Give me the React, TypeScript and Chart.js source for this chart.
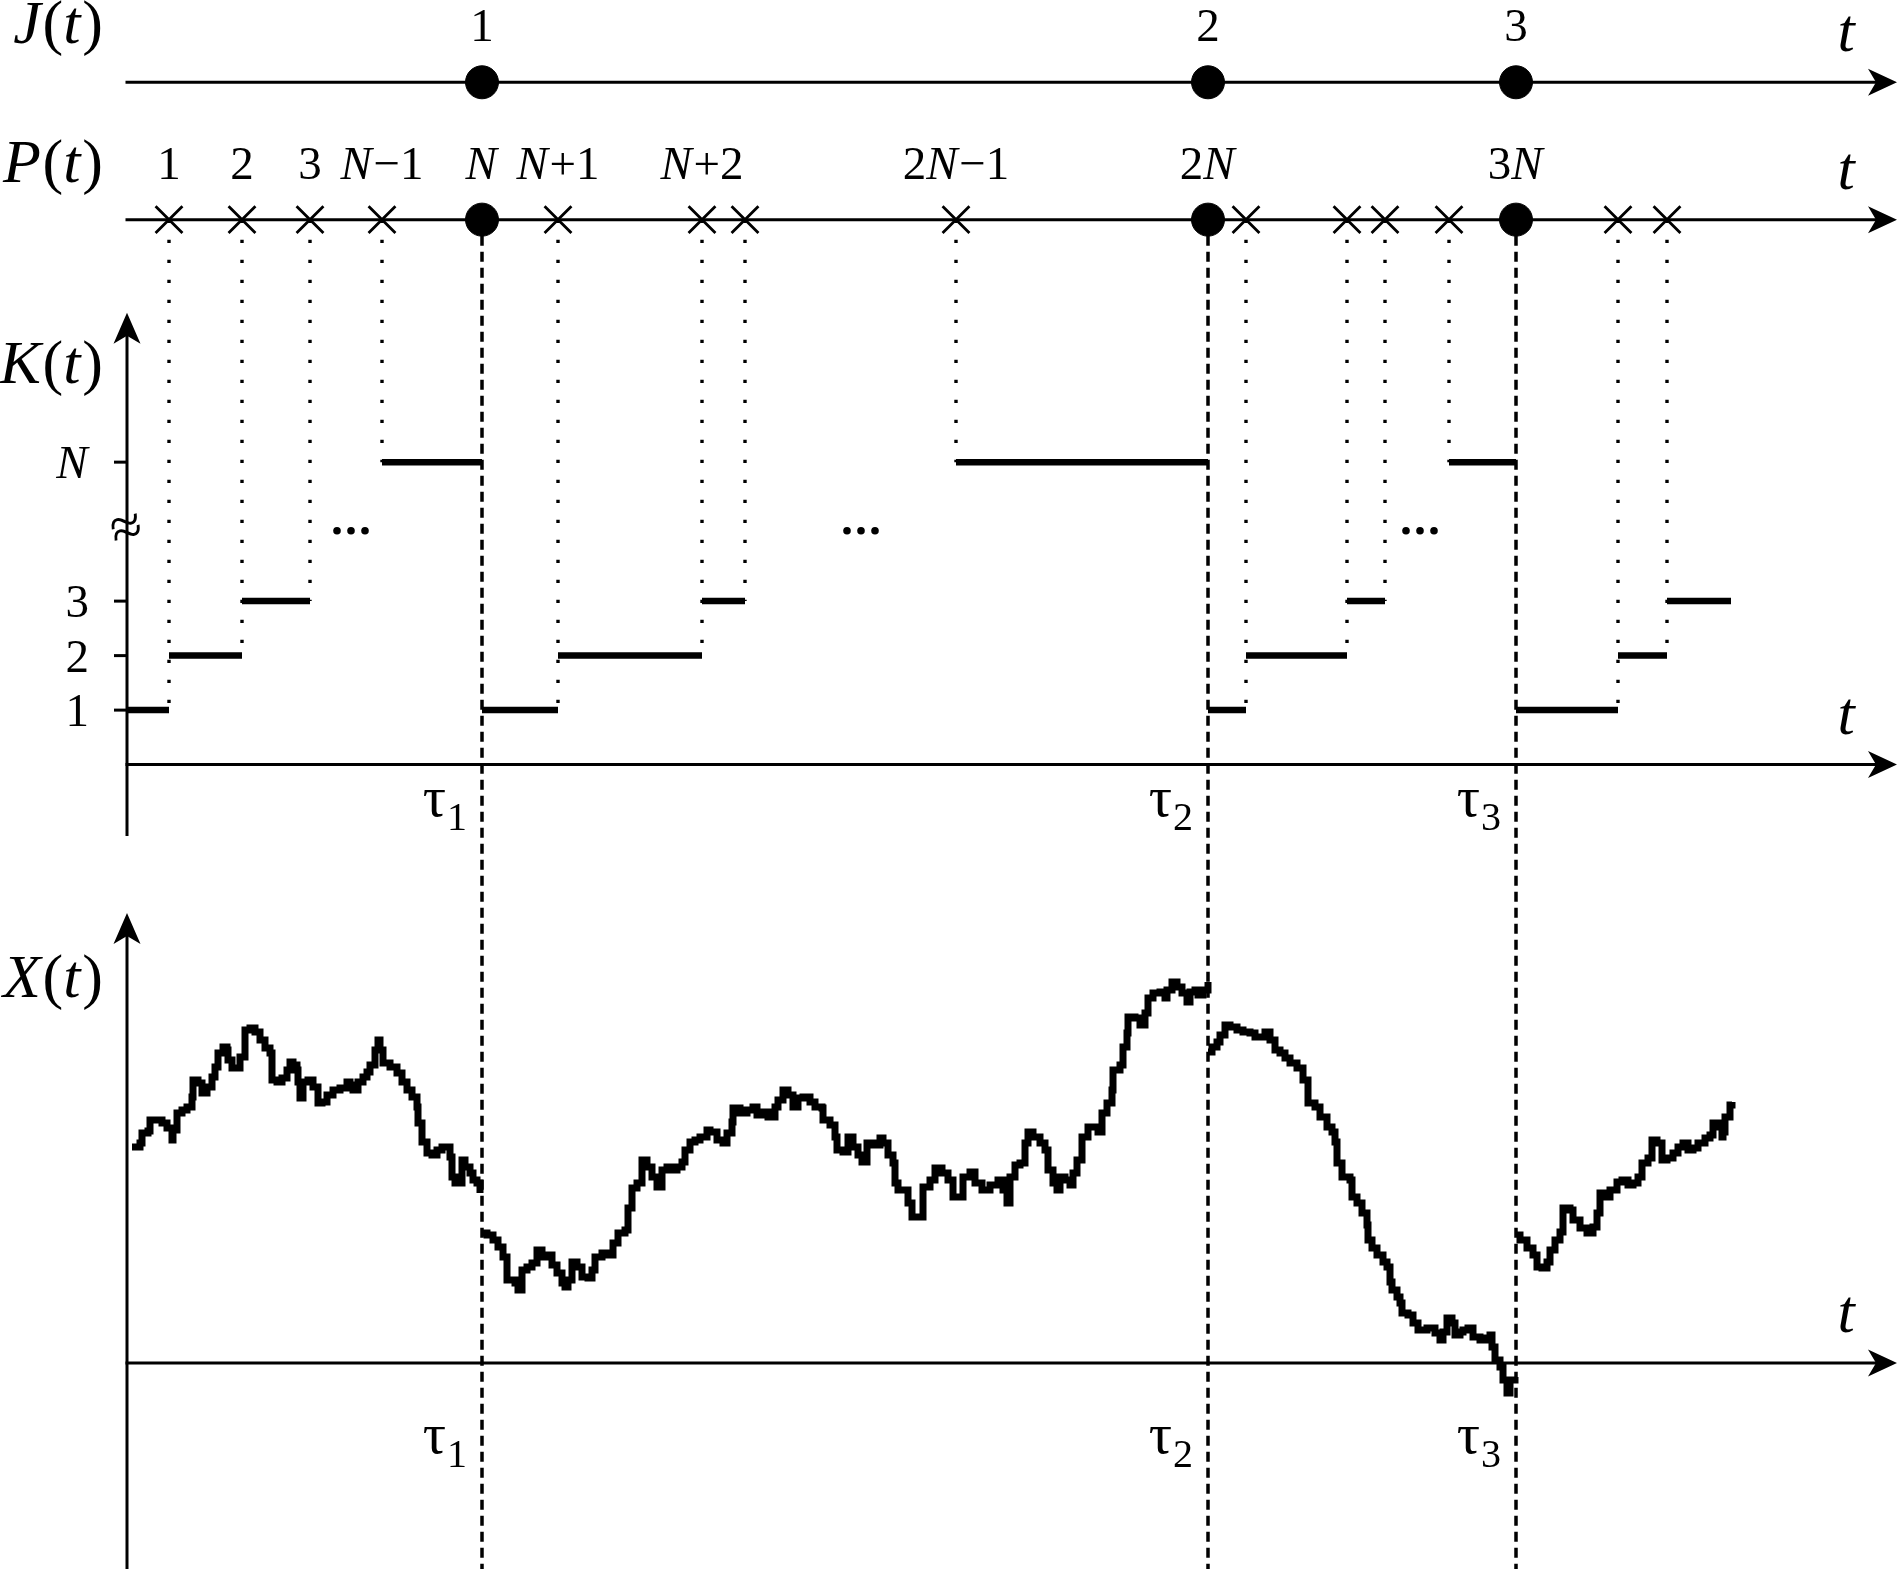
import React, { useEffect, useRef } from "react";
import { Chart, registerables } from "chart.js";

Chart.register(...registerables);

// ---------------- data (time axis t, value axes K and X) ----------------
// jump times tau_1..tau_3 (J(t) events, also every N-th P(t) event)
const jumpTimes = [35.5, 108.1, 138.9];
const jumpLabels = ["1", "2", "3"];
const jumpPLabels = ["N", "2N", "3N"];
const tauSubscripts = ["1", "2", "3"];

// other P(t) events (crosses)
const crossTimes = [4.2, 11.5, 18.3, 25.5, 43.1, 57.5, 61.8, 82.9, 111.9, 122.0, 125.8, 132.2, 149.1, 154.0];
const crossLabels = ["1", "2", "3", "N−1", "N+1", "N+2", "", "2N−1", "", "", "", "", "", ""];
const crossDropLevels = ["1", "2", "3", "N", "1", "2", "3", "N", "1", "2", "3", "N", "1", "2"];

// K(t) levels (broken axis: N drawn above the break)
const kLevelNames = ["1", "2", "3", "N"];
const kLevelValues = [1, 2, 3, 5.55];
const kBreakValue = 4.29;
const kEllipsisTimes = [22.4, 73.4, 129.3];

// K(t) piecewise-constant steps
const kStepStarts = [0, 4.2, 11.5, 25.5, 35.5, 43.1, 57.5, 82.9, 108.1, 111.9, 122.0, 132.2, 138.9, 149.1, 154.0];
const kStepEnds = [4.2, 11.5, 18.3, 35.5, 43.1, 57.5, 61.8, 108.1, 111.9, 122.0, 125.8, 138.9, 149.1, 154.0, 160.4];
const kStepLevels = ["1", "2", "3", "N", "1", "2", "3", "N", "1", "2", "3", "N", "1", "2", "3"];

// X(t) sample path, four pieces separated by the jumps [t, X]
const xPath1: [number, number][] = [
  [0.5, 21.6], [1.3, 22.0], [1.5, 23.0], [2.1, 23.2], [2.3, 24.3], [2.8, 24.3], [3.5, 24.0], [4.0, 23.5],
  [4.5, 22.3], [4.6, 23.3], [5.0, 25.0], [5.5, 25.3], [6.0, 25.6], [6.5, 26.6], [6.6, 28.3], [7.1, 28.0],
  [7.5, 27.0], [8.0, 27.6], [8.5, 28.6], [8.8, 29.6], [9.1, 31.0], [9.6, 31.6], [10.0, 31.3], [10.1, 30.3],
  [10.5, 29.5], [11.0, 29.5], [11.3, 30.6], [11.8, 33.3], [12.3, 33.5], [12.8, 33.1], [13.3, 32.3], [13.8, 31.5],
  [14.3, 31.0], [14.5, 28.3], [15.0, 28.1], [15.5, 28.5], [16.0, 29.3], [16.3, 30.1], [16.6, 29.8], [17.0, 29.3],
  [17.1, 28.1], [17.3, 26.5], [17.6, 28.1], [18.1, 28.3], [18.6, 27.6], [19.1, 26.0], [19.5, 26.1], [20.0, 26.8],
  [20.6, 27.3], [21.3, 27.5], [22.0, 28.1], [22.3, 27.8], [22.6, 27.3], [23.1, 28.1], [23.6, 28.6], [24.0, 29.1],
  [24.3, 29.8], [24.8, 31.3], [25.1, 32.3], [25.3, 31.3], [25.6, 30.0], [26.3, 29.6], [27.0, 29.0], [27.5, 28.1],
  [28.0, 27.3], [28.5, 26.6], [29.0, 25.6], [29.1, 24.0], [29.5, 22.1], [30.0, 21.0], [30.5, 20.8], [31.0, 21.3],
  [31.5, 21.6], [32.0, 21.6], [32.3, 20.6], [32.5, 18.6], [32.8, 18.0], [33.1, 18.0], [33.5, 20.3], [33.8, 19.6],
  [34.3, 19.0], [34.6, 18.3], [35.0, 18.0], [35.3, 17.0],
];
const xPath2: [number, number][] = [
  [35.6, 13.0], [36.0, 12.8], [36.6, 12.3], [37.1, 11.6], [37.6, 10.6], [38.0, 8.3], [38.8, 8.0], [39.1, 7.3],
  [39.5, 9.3], [40.0, 9.6], [40.5, 10.0], [41.0, 11.3], [41.5, 10.6], [42.0, 10.8], [42.5, 9.8], [43.0, 9.0],
  [43.5, 8.0], [43.8, 7.6], [44.1, 8.3], [44.5, 10.1], [45.0, 9.6], [45.5, 8.6], [46.1, 8.5], [46.5, 9.3],
  [46.8, 10.6], [47.5, 11.0], [48.1, 10.8], [48.6, 12.0], [49.1, 13.0], [49.8, 13.3], [50.1, 15.5], [50.5, 17.5],
  [51.0, 18.0], [51.5, 20.3], [52.0, 19.6], [52.5, 18.6], [53.0, 17.6], [53.5, 19.3], [54.0, 19.6], [54.5, 19.3],
  [55.0, 19.6], [55.5, 20.1], [55.8, 21.3], [56.3, 22.1], [56.8, 22.3], [57.3, 22.6], [58.0, 23.3], [58.3, 23.1],
  [59.0, 22.3], [59.6, 22.0], [60.0, 23.0], [60.5, 24.1], [60.6, 25.5], [61.3, 25.0], [62.0, 25.3], [62.6, 25.6],
  [63.0, 24.8], [63.6, 25.1], [64.1, 24.6], [64.8, 25.6], [65.1, 26.3], [65.6, 27.3], [66.1, 26.8], [66.6, 25.6],
  [67.1, 26.5], [67.6, 26.6], [68.3, 26.1], [68.8, 25.6], [69.5, 25.5], [69.6, 24.3], [70.3, 23.8], [70.8, 22.6],
  [71.0, 21.3], [71.6, 21.1], [72.1, 22.6], [72.6, 21.6], [73.1, 20.8], [73.5, 20.1], [74.0, 22.0], [74.6, 21.8],
  [75.3, 22.5], [75.6, 22.0], [76.1, 20.8], [76.6, 20.0], [76.8, 18.0], [77.1, 17.3], [77.6, 17.3], [78.1, 16.0],
  [78.5, 14.6], [79.1, 14.6], [79.6, 17.6], [80.3, 18.3], [80.8, 19.5], [81.5, 19.0], [82.1, 18.3], [82.6, 16.6],
  [83.3, 16.6], [83.6, 18.6], [84.3, 19.1], [84.8, 18.0], [85.5, 17.3], [86.3, 17.8], [87.1, 18.3], [87.6, 17.3],
  [88.0, 16.0], [88.3, 18.6], [88.8, 19.8], [89.3, 20.0], [89.8, 22.0], [90.1, 23.1], [90.6, 22.6], [91.3, 22.0],
  [91.8, 21.3], [92.1, 19.3], [92.6, 18.0], [93.0, 17.3], [93.3, 18.6], [93.8, 18.3], [94.3, 17.8], [94.6, 19.0],
  [95.0, 20.3], [95.5, 22.6], [96.1, 23.6], [96.6, 23.6], [97.1, 23.1], [97.5, 25.0], [98.0, 26.0], [98.5, 27.3],
  [98.6, 29.3], [99.3, 29.8], [99.6, 31.6], [100.0, 33.0], [100.1, 34.6], [100.8, 34.5], [101.3, 33.8], [101.8, 35.0],
  [102.1, 36.5], [102.6, 37.0], [103.3, 37.1], [103.8, 36.5], [104.0, 37.3], [104.5, 38.1], [105.0, 37.6], [105.5, 37.0],
  [106.0, 36.1], [106.3, 37.1], [106.8, 37.3], [107.1, 36.8], [107.6, 37.3], [108.1, 38.1],
];
const xPath3: [number, number][] = [
  [108.1, 31.1], [108.5, 31.6], [109.0, 32.1], [109.3, 32.8], [109.8, 33.8], [110.3, 33.6], [111.0, 33.3], [111.6, 33.1],
  [112.3, 33.0], [112.8, 32.6], [113.3, 32.6], [113.8, 33.1], [114.3, 32.3], [114.8, 31.3], [115.3, 31.0], [115.8, 30.5],
  [116.3, 30.0], [117.0, 29.5], [117.6, 28.3], [118.1, 26.0], [118.8, 25.6], [119.3, 24.6], [120.0, 23.6], [120.5, 23.1],
  [120.8, 22.1], [121.0, 20.0], [121.5, 18.6], [122.0, 18.6], [122.3, 18.3], [122.5, 16.6], [123.0, 16.0], [123.5, 15.0],
  [124.0, 13.8], [124.1, 12.3], [124.5, 11.5], [125.0, 10.8], [125.6, 10.1], [126.0, 9.6], [126.3, 8.1], [126.5, 7.3],
  [127.0, 6.6], [127.3, 6.0], [127.5, 5.0], [128.1, 4.8], [128.6, 4.0], [129.1, 3.3], [130.0, 3.5], [130.8, 3.0],
  [131.3, 2.3], [131.6, 3.1], [132.0, 4.5], [132.5, 4.0], [132.8, 2.8], [133.3, 3.1], [133.6, 3.3], [134.1, 3.5],
  [134.6, 2.6], [135.3, 2.3], [136.0, 2.5], [136.3, 2.8], [136.5, 1.6], [136.8, 0.3], [137.3, -0.4], [137.6, -1.7],
  [138.0, -3.0], [138.3, -1.7], [138.8, -1.4],
];
const xPath4: [number, number][] = [
  [139.0, 12.8], [139.3, 12.3], [140.0, 11.5], [140.6, 10.8], [141.0, 9.6], [141.5, 9.5], [142.0, 10.1], [142.3, 11.3],
  [142.8, 12.3], [143.3, 13.1], [143.6, 15.5], [144.3, 15.3], [144.6, 14.3], [145.3, 13.5], [146.0, 13.0], [146.6, 13.6],
  [147.0, 15.0], [147.3, 17.0], [147.8, 16.6], [148.3, 17.3], [149.0, 18.1], [149.5, 18.3], [150.1, 17.8], [150.6, 18.0],
  [151.1, 18.6], [151.5, 20.0], [152.1, 20.5], [152.5, 22.3], [153.0, 22.0], [153.5, 20.3], [154.0, 20.5], [154.6, 21.0],
  [155.1, 21.6], [155.6, 22.0], [156.1, 21.3], [156.6, 21.5], [157.1, 22.0], [157.8, 22.5], [158.3, 22.8], [158.6, 24.0],
  [159.1, 23.6], [159.5, 22.6], [159.6, 23.1], [159.8, 24.6], [160.3, 25.8], [160.5, 26.1],
];
const xPaths = [xPath1, xPath2, xPath3, xPath4];

// ---------------- layout (scale positions, not data) ----------------
const LANE_J = 12.52; // J(t) line position in K-scale units
const LANE_P = 10.0; // P(t) line position in K-scale units
const T_END = 177.0; // arrow tip of all time axes
const K_TOP = 8.29;
const K_BOTTOM = -1.31;
const X_TOP = 45.0;
const FONT = '"Liberation Serif", "Times New Roman", Times, serif';

const levelValue = (name: string) => kLevelValues[kLevelNames.indexOf(name)];

function drawRich(ctx: CanvasRenderingContext2D, str: string, x: number, y: number, size: number, align: string) {
  const parts: [string, boolean][] = [];
  for (const ch of str) {
    const it = /[A-Za-z]/.test(ch);
    if (parts.length && parts[parts.length - 1][1] === it) parts[parts.length - 1][0] += ch;
    else parts.push([ch, it]);
  }
  const fontOf = (it: boolean) => `${it ? "italic " : ""}${size}px ${FONT}`;
  let w = 0;
  const widths = parts.map(([s, it]) => {
    ctx.font = fontOf(it);
    const m = ctx.measureText(s).width + (it ? size * 0.03 : 0);
    w += m;
    return m;
  });
  let sx = align === "center" ? x - w / 2 : align === "right" ? x - w : x;
  ctx.textAlign = "left";
  ctx.textBaseline = "alphabetic";
  parts.forEach(([s, it], i) => {
    ctx.font = fontOf(it);
    ctx.fillText(s, sx, y);
    sx += widths[i];
  });
}

function arrowRight(ctx: CanvasRenderingContext2D, x: number, y: number) {
  ctx.beginPath();
  ctx.moveTo(x, y);
  ctx.lineTo(x - 29, y - 13.5);
  ctx.lineTo(x - 21, y);
  ctx.lineTo(x - 29, y + 13.5);
  ctx.closePath();
  ctx.fill();
}
function arrowUp(ctx: CanvasRenderingContext2D, x: number, y: number) {
  ctx.beginPath();
  ctx.moveTo(x, y);
  ctx.lineTo(x - 13.5, y + 31);
  ctx.lineTo(x, y + 23);
  ctx.lineTo(x + 13.5, y + 31);
  ctx.closePath();
  ctx.fill();
}
function seg(ctx: CanvasRenderingContext2D, x1: number, y1: number, x2: number, y2: number) {
  ctx.beginPath();
  ctx.moveTo(x1, y1);
  ctx.lineTo(x2, y2);
  ctx.stroke();
}

const diagramPlugin = {
  id: "diagram",
  beforeDatasetsDraw(chart: any) {
    const ctx: CanvasRenderingContext2D = chart.ctx;
    const xs = chart.scales.x, yK = chart.scales.yK, yX = chart.scales.yX;
    const px = (t: number) => xs.getPixelForValue(t);
    const x0 = px(0), xEnd = px(T_END);
    ctx.save();
    ctx.strokeStyle = "#000";
    ctx.fillStyle = "#000";
    ctx.lineWidth = 3;
    ctx.lineCap = "butt";
    const rows = [yK.getPixelForValue(LANE_J), yK.getPixelForValue(LANE_P), yK.getPixelForValue(0), yX.getPixelForValue(0)];
    rows.forEach((yp: number) => {
      seg(ctx, x0 - 1.5, yp, xEnd - 15, yp);
      arrowRight(ctx, xEnd, yp);
    });
    seg(ctx, x0, yK.getPixelForValue(K_BOTTOM), x0, yK.getPixelForValue(K_TOP) + 15);
    arrowUp(ctx, x0, yK.getPixelForValue(K_TOP));
    seg(ctx, x0, chart.height, x0, yX.getPixelForValue(X_TOP) + 15);
    arrowUp(ctx, x0, yX.getPixelForValue(X_TOP));
    kLevelValues.forEach((v) => seg(ctx, x0 - 13, yK.getPixelForValue(v), x0, yK.getPixelForValue(v)));
    // dashed lines at the jump times
    ctx.lineWidth = 3.5;
    ctx.setLineDash([10, 6]);
    jumpTimes.forEach((t) => seg(ctx, px(t), yK.getPixelForValue(LANE_P), px(t), chart.height));
    ctx.setLineDash([]);
    ctx.restore();
  },
  afterDatasetsDraw(chart: any) {
    const ctx: CanvasRenderingContext2D = chart.ctx;
    const xs = chart.scales.x, yK = chart.scales.yK, yX = chart.scales.yX;
    const px = (t: number) => xs.getPixelForValue(t);
    const x0 = px(0);
    const yJ = yK.getPixelForValue(LANE_J), yP = yK.getPixelForValue(LANE_P);
    const yK0 = yK.getPixelForValue(0), yX0 = yX.getPixelForValue(0);
    ctx.save();
    ctx.fillStyle = "#000";
    // axis names
    drawRich(ctx, "J(t)", x0 - 24, yJ - 39, 62, "right");
    drawRich(ctx, "P(t)", x0 - 24, yP - 38, 62, "right");
    drawRich(ctx, "K(t)", x0 - 24, yK.getPixelForValue(K_TOP) + 70, 62, "right");
    drawRich(ctx, "X(t)", x0 - 24, yX.getPixelForValue(X_TOP) + 84, 62, "right");
    // t labels
    [yJ, yP, yK0, yX0].forEach((yp) => drawRich(ctx, "t", px(172), yp - 31, 62, "center"));
    // J and P labels
    jumpTimes.forEach((t, i) => {
      drawRich(ctx, jumpLabels[i], px(t), yJ - 41, 47, "center");
      drawRich(ctx, jumpPLabels[i], px(t), yP - 41, 47, "center");
    });
    crossTimes.forEach((t, i) => {
      if (crossLabels[i]) drawRich(ctx, crossLabels[i], px(t), yP - 41, 47, "center");
    });
    // K tick labels
    kLevelNames.forEach((n, i) => drawRich(ctx, n, x0 - 38, yK.getPixelForValue(kLevelValues[i]) + 16, 47, "right"));
    // axis break mark
    ctx.save();
    ctx.translate(x0, yK.getPixelForValue(kBreakValue));
    ctx.rotate(-0.25);
    ctx.font = `58px ${FONT}`;
    ctx.textAlign = "center";
    ctx.textBaseline = "middle";
    ctx.fillText("≈", 0, 0);
    ctx.restore();
    // ellipses
    kEllipsisTimes.forEach((t) => {
      const cy = yK.getPixelForValue(kBreakValue);
      [-14, 0, 14].forEach((dx) => {
        ctx.beginPath();
        ctx.arc(px(t) + dx, cy, 3.8, 0, Math.PI * 2);
        ctx.fill();
      });
    });
    // tau labels
    const tauLabel = (t: number, sub: string, base: number) => {
      const right = px(t) - 15;
      ctx.textBaseline = "alphabetic";
      ctx.textAlign = "right";
      ctx.font = `40px ${FONT}`;
      const sw = ctx.measureText(sub).width;
      ctx.fillText(sub, right, base + 14);
      ctx.font = `58px ${FONT}`;
      ctx.fillText("τ", right - sw - 1, base);
    };
    jumpTimes.forEach((t, i) => {
      tauLabel(t, tauSubscripts[i], yK0 + 51);
      tauLabel(t, tauSubscripts[i], yX0 + 90);
    });
    ctx.restore();
  },
};

export default function App() {
  const ref = useRef<HTMLCanvasElement | null>(null);
  useEffect(() => {
    document.body.style.margin = "0";
    const canvas = ref.current;
    if (!canvas) return;

    const stepData: any[] = [];
    kStepStarts.forEach((s, i) => {
      const v = levelValue(kStepLevels[i]);
      stepData.push({ x: s, y: v }, { x: kStepEnds[i], y: v }, { x: kStepEnds[i], y: null });
    });
    const dropData: any[] = [];
    crossTimes.forEach((t, i) => {
      dropData.push({ x: t, y: LANE_P }, { x: t, y: levelValue(crossDropLevels[i]) }, { x: t, y: null });
    });
    const pointsAt = (times: number[], lane: number) => times.map((t) => ({ x: t, y: lane }));

    const base = { borderColor: "#000", backgroundColor: "#000", fill: false, tension: 0, spanGaps: false };
    const datasets: any[] = [
      { ...base, label: "J jumps", yAxisID: "yK", data: pointsAt(jumpTimes, LANE_J), showLine: false, pointRadius: 16.5, pointBorderWidth: 1, pointBackgroundColor: "#000", order: 0 },
      { ...base, label: "P jumps", yAxisID: "yK", data: pointsAt(jumpTimes, LANE_P), showLine: false, pointRadius: 16.5, pointBorderWidth: 1, pointBackgroundColor: "#000", order: 0 },
      { ...base, label: "P events", yAxisID: "yK", data: pointsAt(crossTimes, LANE_P), showLine: false, pointStyle: "crossRot", pointRadius: 19, pointBorderWidth: 2.8, order: 1 },
      { ...base, label: "K(t)", yAxisID: "yK", data: stepData, borderWidth: 6.5, pointRadius: 0, borderCapStyle: "butt", order: 2 },
      ...xPaths.map((p, i) => ({
        ...base,
        label: "X(t) " + (i + 1),
        yAxisID: "yX",
        data: p.map(([t, v]) => ({ x: t, y: v })),
        borderWidth: 7,
        pointRadius: 0,
        stepped: true,
        borderJoinStyle: "miter",
        order: 3,
      })),
      { ...base, label: "drops", yAxisID: "yK", data: dropData, borderWidth: 3.4, borderDash: [3.4, 16.6], pointRadius: 0, order: 4 },
    ];

    const chart = new Chart(canvas, {
      type: "line",
      data: { datasets },
      options: {
        animation: false,
        responsive: false,
        maintainAspectRatio: false,
        events: [],
        layout: { padding: 0, autoPadding: false },
        plugins: { legend: { display: false }, tooltip: { enabled: false }, title: { display: false } },
        scales: {
          x: { type: "linear", min: -12.7, max: 177.3, display: false },
          yK: { type: "linear", position: "left", min: -14.76, max: 14.03, display: false },
          yX: { type: "linear", position: "left", min: -20.6, max: 136.3, display: false },
        },
      } as any,
      plugins: [diagramPlugin],
    });
    return () => chart.destroy();
  }, []);

  return (
    <div style={{ width: 1900, height: 1569, background: "#fff" }}>
      <canvas ref={ref} width={1900} height={1569} style={{ display: "block" }} />
    </div>
  );
}
